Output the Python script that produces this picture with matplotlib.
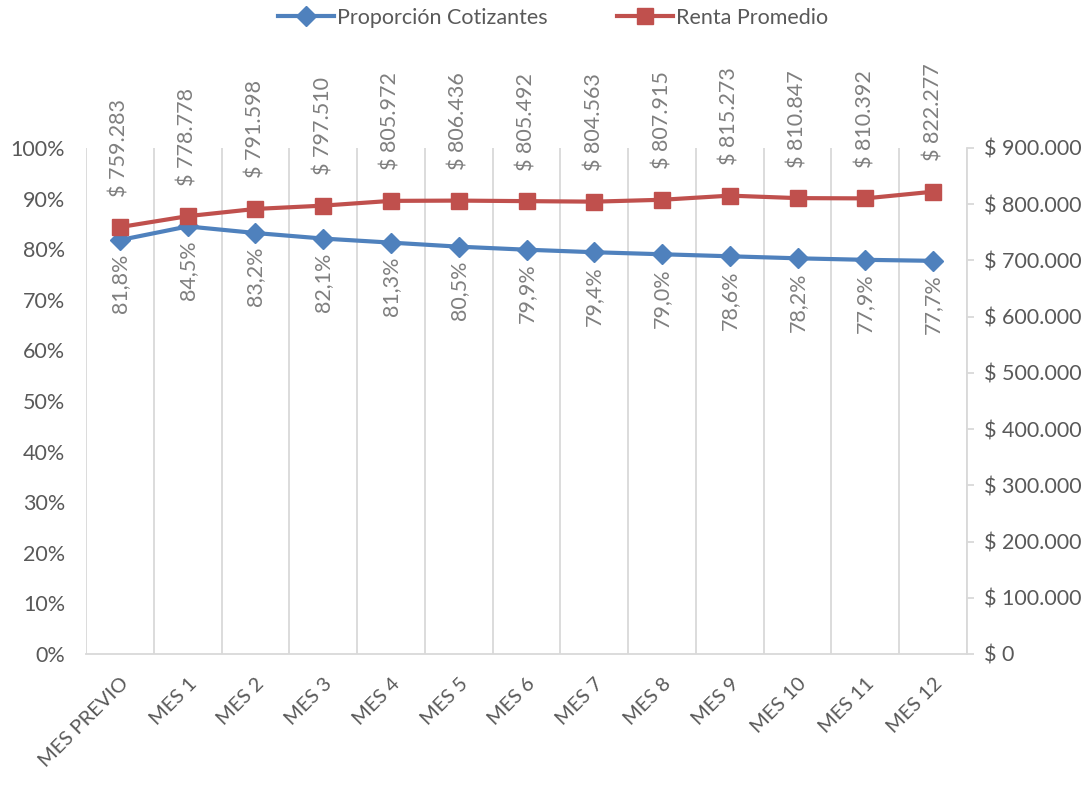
import matplotlib
matplotlib.use("Agg")
import matplotlib.pyplot as plt
from matplotlib.ticker import FuncFormatter, MultipleLocator, FixedLocator

plt.rcParams['font.family'] = ['Lato', 'DejaVu Sans']

categories = ["MES PREVIO", "MES 1", "MES 2", "MES 3", "MES 4", "MES 5", "MES 6",
              "MES 7", "MES 8", "MES 9", "MES 10", "MES 11", "MES 12"]
proporcion = [81.8, 84.5, 83.2, 82.1, 81.3, 80.5, 79.9, 79.4, 79.0, 78.6, 78.2, 77.9, 77.7]
renta = [759283, 778778, 791598, 797510, 805972, 806436, 805492, 804563,
         807915, 815273, 810847, 810392, 822277]

BLUE = "#4F81BD"
RED = "#C0504D"
GRID = "#D9D9D9"
TXT = "#595959"
LBL = "#7F7F7F"
FS = 15.5

fig = plt.figure(figsize=(10.91, 7.89), dpi=100)
ax = fig.add_axes([86/1091, 1-654/789, (967-86)/1091, (654-148)/789])
ax2 = ax.twinx()

x = list(range(len(categories)))

ax.set_xlim(-0.5, len(categories) - 0.5)
ax.set_ylim(0, 100)
ax2.set_ylim(0, 900000)

# vertical gridlines at category boundaries
ax.xaxis.set_minor_locator(FixedLocator([i - 0.5 for i in range(len(categories) + 1)]))
ax.xaxis.set_major_locator(FixedLocator(x))
ax.grid(which='minor', axis='x', color=GRID, lw=1.3)
ax.tick_params(axis='x', which='both', length=0)
ax.set_xticklabels(categories, rotation=45, ha='right', va='top',
                   rotation_mode='anchor', color=TXT, fontsize=FS - 1)
ax.tick_params(axis='x', pad=15)

ax.yaxis.set_major_locator(MultipleLocator(10))
ax.yaxis.set_major_formatter(FuncFormatter(lambda v, p: f"{int(round(v))}%"))
ax.tick_params(axis='y', length=0, labelsize=FS, labelcolor=TXT, pad=15)

ax2.yaxis.set_major_locator(MultipleLocator(100000))
def money(v, p):
    v = int(round(v))
    if v == 0:
        return "$ 0"
    return "$ " + f"{v:,}".replace(",", ".")
ax2.yaxis.set_major_formatter(FuncFormatter(money))
ax2.tick_params(axis='y', length=5, width=1.3, color=GRID, labelsize=FS,
                labelcolor=TXT, pad=7)

for a in (ax, ax2):
    for s in a.spines.values():
        s.set_visible(False)
ax.spines['bottom'].set_visible(True)
ax.spines['bottom'].set_color(GRID)
ax.spines['bottom'].set_linewidth(1.3)
ax2.spines['right'].set_visible(True)
ax2.spines['right'].set_color(GRID)
ax2.spines['right'].set_linewidth(1.3)

l1, = ax.plot(x, proporcion, color=BLUE, lw=3, marker='D', markersize=10,
              label="Proporción Cotizantes", zorder=3)
l2, = ax2.plot(x, renta, color=RED, lw=3, marker='s', markersize=11.5,
               label="Renta Promedio", zorder=3)

for xi, v in zip(x, proporcion):
    ax.annotate(f"{v:.1f}%".replace(".", ","), (xi, v), xytext=(0, -10),
                textcoords='offset points', rotation=90, ha='center', va='top',
                color=LBL, fontsize=FS)
for xi, v in zip(x, renta):
    ax2.annotate("$ " + f"{v:,}".replace(",", "."), (xi, v), xytext=(0, 22),
                 textcoords='offset points', rotation=90, ha='center', va='bottom',
                 color=LBL, fontsize=FS, annotation_clip=False)

fig.legend(handles=[l1, l2], loc='center', bbox_to_anchor=(0.507, 1 - 18/789),
           ncol=2, frameon=False, fontsize=FS, labelcolor=TXT,
           handlelength=2.6, columnspacing=3.2, handletextpad=0.15)

fig.savefig("out.png", dpi=100)
